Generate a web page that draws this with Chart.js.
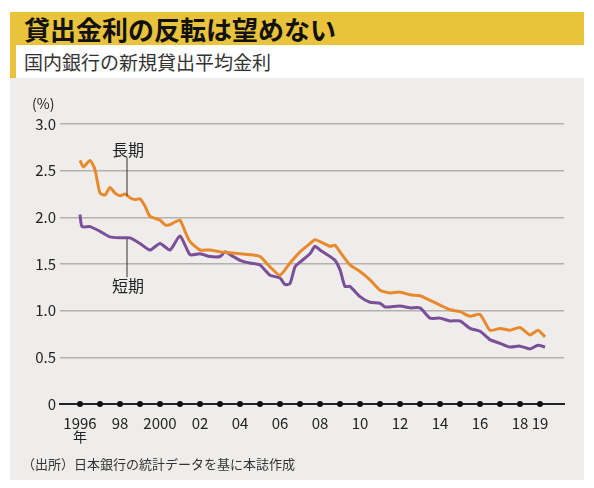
<!DOCTYPE html>
<html><head><meta charset="utf-8">
<script src="https://cdn.jsdelivr.net/npm/chart.js@4"></script>
<style>
body{margin:0;background:#fff;font-family:"Noto Sans CJK JP",sans-serif;}
#title{position:absolute;left:10px;top:12px;width:574px;height:33px;background:#e8c33b;font-weight:bold;font-size:26px;line-height:33px;padding-left:14px;box-sizing:border-box;color:#111;}
#sub{position:absolute;left:10px;top:45px;width:574px;height:33px;border-left:6px solid #e8c33b;box-sizing:border-box;font-size:19px;line-height:33px;padding-left:8px;color:#333;}
#panel{position:absolute;left:10px;top:78px;width:574px;height:402px;background:#efedeb;}
#src{position:absolute;left:22px;top:454px;font-size:13px;color:#333;}
</style></head><body>
<div id="title">貸出金利の反転は望めない</div>
<div id="sub">国内銀行の新規貸出平均金利</div>
<div id="panel"><canvas id="c" width="574" height="402"></canvas></div>
<div id="src">（出所）日本銀行の統計データを基に本誌作成</div>
<script>
const longX = [1996,1996.17,1996.5,1996.75,1997,1997.25,1997.5,1997.75,1998,1998.25,1998.5,1998.75,1999,1999.25,1999.5,2000,2000.25,2000.5,2000.75,2001,2001.25,2001.5,2002,2002.5,2003,2003.5,2004,2004.5,2005,2005.5,2006,2006.5,2007,2007.5,2007.75,2008,2008.5,2008.75,2009,2009.5,2010,2010.5,2011,2011.5,2012,2012.5,2013,2013.5,2014,2014.5,2015,2015.5,2016,2016.5,2017,2017.5,2018,2018.5,2018.9,2019.25];
const longY = [2.61,2.54,2.61,2.51,2.26,2.24,2.32,2.26,2.23,2.25,2.21,2.19,2.20,2.12,2.01,1.97,1.92,1.92,1.95,1.97,1.85,1.74,1.65,1.65,1.63,1.62,1.61,1.60,1.58,1.47,1.38,1.51,1.63,1.72,1.76,1.74,1.69,1.70,1.63,1.49,1.42,1.33,1.22,1.19,1.20,1.17,1.16,1.11,1.06,1.01,0.99,0.94,0.96,0.79,0.81,0.79,0.82,0.74,0.79,0.72];
const shortX = [1996,1996.1,1996.5,1997,1997.5,1998,1998.5,1999,1999.5,2000,2000.5,2001,2001.5,2002,2002.5,2003,2003.25,2003.5,2004,2004.5,2005,2005.5,2006,2006.25,2006.5,2006.75,2007,2007.5,2007.75,2008,2008.5,2008.75,2009,2009.25,2009.5,2010,2010.5,2011,2011.25,2012,2012.5,2013,2013.5,2014,2014.5,2015,2015.5,2016,2016.5,2017,2017.5,2018,2018.5,2018.9,2019.25];
const shortY = [2.03,1.90,1.90,1.85,1.79,1.78,1.78,1.72,1.65,1.72,1.65,1.80,1.60,1.61,1.58,1.58,1.63,1.60,1.54,1.51,1.49,1.38,1.35,1.28,1.29,1.47,1.52,1.61,1.69,1.65,1.58,1.54,1.44,1.26,1.26,1.15,1.09,1.08,1.04,1.05,1.03,1.03,0.92,0.92,0.89,0.89,0.81,0.78,0.69,0.65,0.61,0.62,0.59,0.63,0.61];
const years = [1996,1997,1998,1999,2000,2001,2002,2003,2004,2005,2006,2007,2008,2009,2010,2011,2012,2013,2014,2015,2016,2017,2018,2019];
const yearLabels = {1996:'1996',1998:'98',2000:'2000',2002:'02',2004:'04',2006:'06',2008:'08',2010:'10',2012:'12',2014:'14',2016:'16',2018:'18',2019:'19'};
const yTicks = [0,0.5,1.0,1.5,2.0,2.5,3.0];

const pts = (xs, ys) => xs.map((x, i) => ({x, y: ys[i]}));
const FONT = '"Noto Sans CJK JP", sans-serif';

const annot = {
  id: 'annot',
  afterDatasetsDraw(chart) {
    const {ctx, scales: {x, y}} = chart;
    ctx.save();
    ctx.fillStyle = '#222';
    ctx.font = '16px ' + FONT;
    ctx.textAlign = 'center';
    ctx.textBaseline = 'middle';
    const lx = x.getPixelForValue(1998.4);
    ctx.fillText('長期', lx, y.getPixelForValue(2.72));
    ctx.fillText('短期', lx, y.getPixelForValue(1.27));
    ctx.strokeStyle = '#333';
    ctx.lineWidth = 1;
    const vx = x.getPixelForValue(1998.35);
    ctx.beginPath();
    ctx.moveTo(vx, y.getPixelForValue(2.64)); ctx.lineTo(vx, y.getPixelForValue(2.23));
    ctx.moveTo(vx, y.getPixelForValue(1.77)); ctx.lineTo(vx, y.getPixelForValue(1.36));
    ctx.stroke();
    ctx.font = '14px ' + FONT;
    ctx.fillText('年', x.getPixelForValue(1996), y.getPixelForValue(0) + 33);
    ctx.textAlign = 'left';
    ctx.fillText('(%)', 22, y.getPixelForValue(3.0) - 20);
    ctx.restore();
  }
};

new Chart(document.getElementById('c'), {
  type: 'scatter',
  data: {
    datasets: [
      {data: pts(longX, longY), showLine: true, borderColor: '#e8892b', borderWidth: 3, pointRadius: 0, tension: 0.2},
      {data: pts(shortX, shortY), showLine: true, borderColor: '#7a4f98', borderWidth: 3, pointRadius: 0, tension: 0.2},
      {data: years.map(v => ({x: v, y: 0})), pointRadius: 3, backgroundColor: '#111', borderWidth: 0, clip: false}
    ]
  },
  options: {
    animation: false,
    responsive: false,
    layout: {padding: {top: 46, bottom: 46, right: 20, left: 0}},
    plugins: {legend: {display: false}, tooltip: {enabled: false}},
    scales: {
      x: {
        type: 'linear', min: 1995, max: 2020.2,
        grid: {display: false},
        border: {color: '#222', width: 2},
        afterBuildTicks: s => { s.ticks = years.map(v => ({value: v})); },
        ticks: {autoSkip: false, maxRotation: 0, color: '#222', font: {size: 15, family: FONT}, padding: 2,
          callback: v => yearLabels[v] || ''},
        afterFit: s => { s.height = 30; }
      },
      y: {
        min: 0, max: 3.0,
        afterBuildTicks: s => { s.ticks = yTicks.map(v => ({value: v})); },
        grid: {color: c => c.tick.value === 0 ? 'rgba(0,0,0,0)' : '#b3b1ae', lineWidth: 1.5, drawTicks: false},
        border: {display: false},
        ticks: {color: '#222', font: {size: 15, family: FONT}, padding: 4, callback: v => v === 0 ? '0' : v.toFixed(1)},
        afterFit: s => { s.width = 50; }
      }
    }
  },
  plugins: [annot]
});
</script>
</body></html>
